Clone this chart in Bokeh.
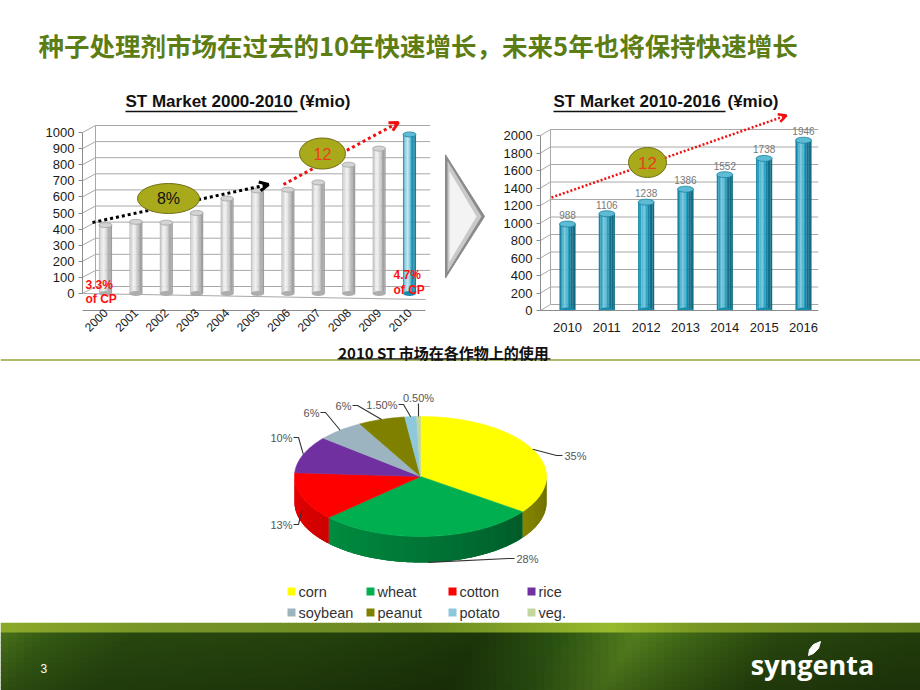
import math
from bokeh.plotting import figure
from bokeh.layouts import column, row
from bokeh.models import Range1d, FixedTicker, Arrow, OpenHead
from bokeh.core.properties import value
from bokeh.embed import file_html
from bokeh.resources import INLINE

# ---------------- data ----------------
page_title = "种子处理剂市场在过去的10年快速增长，未来5年也将保持快速增长"
past_title = "ST Market 2000-2010"
future_title = "ST Market 2010-2016"
unit_text = "(¥mio)"
pie_title = "2010 ST 市场在各作物上的使用"

past_years = [2000, 2001, 2002, 2003, 2004, 2005, 2006, 2007, 2008, 2009, 2010]
past_market = [425, 445, 440, 500, 590, 640, 645, 690, 800, 900, 988]
past_ticks = [0, 100, 200, 300, 400, 500, 600, 700, 800, 900, 1000]

future_years = [2010, 2011, 2012, 2013, 2014, 2015, 2016]
future_market = [988, 1106, 1238, 1386, 1552, 1738, 1946]
future_ticks = [0, 200, 400, 600, 800, 1000, 1200, 1400, 1600, 1800, 2000]

growth_past = "8%"
growth_recent = "12"
cp_2000 = ["3.3%", "of CP"]
cp_2010 = ["4.7%", "of CP"]

crops = ["corn", "wheat", "cotton", "rice", "soybean", "peanut", "potato", "veg."]
crop_share = [35, 28, 13, 10, 6, 6, 1.5, 0.5]
crop_share_labels = ["35%", "28%", "13%", "10%", "6%", "6%", "1.50%", "0.50%"]

page_number = "3"
brand = "syngenta"

# ---------------- styles ----------------
CROP_COLORS = ["#ffff00", "#00b050", "#ff0000", "#7030a0", "#9cb3c0", "#808000", "#8ec8dc", "#c3d69b"]
GRAY = "#c0c0c0"
TEAL = "#1a9cc0"
OLIVE_TXT = "#5c7d14"
ARIAL = value("Liberation Sans")
CJK = value("Noto Sans CJK SC")


def shade(hexc, f):
    r, g, b = (int(hexc[i:i + 2], 16) for i in (1, 3, 5))
    if f >= 1:
        m = min(1.0, f - 1)
        r, g, b = (c + (255 - c) * m for c in (r, g, b))
    else:
        r, g, b = (c * f for c in (r, g, b))
    return "#%02x%02x%02x" % tuple(int(max(0, min(255, round(c)))) for c in (r, g, b))


def canvas(w, h, **kw):
    p = figure(width=w, height=h, x_range=Range1d(0, w), y_range=Range1d(h, 0),
               output_backend="svg", toolbar_location=None, min_border=0,
               x_axis_location=None, y_axis_location=None, **kw)
    p.grid.visible = False
    p.outline_line_color = None
    p.background_fill_color = "white"
    p.border_fill_color = "white"
    return p


def cylinders(p, xs, tops, colors, width, lo, hi, cap_h):
    N = 10
    sx, st, sc = [], [], []
    for x, t, c in zip(xs, tops, colors):
        for k in range(N):
            u = (k + 0.5) / N
            f = lo + (hi - lo) * math.exp(-((u - 0.35) / 0.25) ** 2)
            sx.append(x + (u - 0.5) * width)
            st.append(t)
            sc.append(shade(c, f))
    p.vbar(x=sx, top=st, bottom=0, width=width / N * 1.08, fill_color=sc, line_color=None)
    p.ellipse(x=xs, y=[0] * len(xs), width=width, height=cap_h, height_units="screen",
              fill_color=[shade(c, 0.9) for c in colors], line_color=None)
    p.ellipse(x=xs, y=tops, width=width, height=cap_h, height_units="screen",
              fill_color=[shade(c, 1.3) for c in colors],
              line_color=[shade(c, 0.85) for c in colors], line_width=0.8)


def wall_grid(p, x0, x1, ticks, dx, dv):
    xs = [[x0, x0 + dx, x1] for _ in ticks]
    ys = [[v, v + dv, v + dv] for v in ticks]
    p.multi_line(xs=xs, ys=ys, line_color="#a8a8a8", line_width=1)
    p.segment(x0=[x0 + dx], y0=[dv], x1=[x0 + dx], y1=[ticks[-1] + dv], line_color="#a8a8a8")


def style_axes(p):
    p.outline_line_color = None
    p.background_fill_color = "white"
    p.border_fill_color = "white"
    p.grid.visible = False
    for ax in (p.xaxis[0], p.yaxis[0]):
        ax.axis_line_color = "#8c8c8c"
        ax.major_tick_line_color = "#8c8c8c"
        ax.minor_tick_line_color = None
        ax.major_label_text_font = "Liberation Sans"
        ax.major_label_text_color = "#1a1a1a"
        ax.major_label_text_font_size = "13px"
    p.yaxis.major_tick_out = 4
    p.yaxis.major_tick_in = 0
    p.yaxis.major_label_standoff = 4
    p.xaxis.major_tick_out = 0
    p.xaxis.major_tick_in = 0


# ---------------- header ----------------
pH = canvas(920, 80)
pH.text(x=[38], y=[44], text=[page_title], text_font=CJK, text_font_size="25.5px",
        text_font_style="bold", text_color=OLIVE_TXT, text_baseline="middle")

# ---------------- left chart (2000-2010) ----------------
ROW_TOP, ROW_H = 80, 263
FR_TOP, FR_BOT = 85, 310          # shared frame top/bottom (page px) for both charts
L_SP, L_K = 30.4, 0.161
Lx = lambda rx: 2000 + (rx - 105) / L_SP
Ly = lambda ry: (293 - ry) / L_K

pL = figure(width=440, height=ROW_H, output_backend="svg", toolbar_location=None,
            x_range=Range1d(Lx(82), Lx(430)), y_range=Range1d(Ly(FR_BOT), Ly(FR_TOP)),
            min_border=0, min_border_left=82, min_border_right=10,
            min_border_top=FR_TOP - ROW_TOP, min_border_bottom=ROW_TOP + ROW_H - FR_BOT)
style_axes(pL)
pL.yaxis.ticker = FixedTicker(ticks=past_ticks)
pL.yaxis.bounds = (0, past_ticks[-1])
pL.xaxis.ticker = FixedTicker(ticks=past_years)
pL.xaxis.major_label_orientation = math.pi / 4
pL.xaxis.major_label_text_font_size = "12px"
pL.xaxis.major_label_standoff = 0
pL.xaxis.bounds = (Lx(82), Lx(425))

wall_grid(pL, Lx(82), Lx(430), past_ticks, 13 / L_SP, 7 / L_K)
pL.segment(x0=[Lx(82)], y0=[Ly(293)], x1=[Lx(425)], y1=[Ly(299)], line_color="#a8a8a8")
past_colors = [GRAY] * (len(past_years) - 1) + [TEAL]
cylinders(pL, past_years, past_market, past_colors, 13 / L_SP, 0.82, 1.75, 5)

pL.add_layout(Arrow(x_start=Lx(92), y_start=Ly(222), x_end=Lx(268), y_end=Ly(184),
                    line_color="black", line_width=3, line_dash="3 3",
                    end=OpenHead(size=9, line_color="black", line_width=3)))
pL.add_layout(Arrow(x_start=Lx(283), y_start=Ly(184), x_end=Lx(398), y_end=Ly(122),
                    line_color="#ee1111", line_width=3, line_dash="3 3",
                    end=OpenHead(size=9, line_color="#ee1111", line_width=3)))
e1 = pL.ellipse(x=[Lx(168), Lx(322)], y=[Ly(198), Ly(153)], width=[62, 46], height=[30, 31],
                width_units="screen", height_units="screen",
                fill_color="#a9a91c", line_color="#6e6e10", line_width=1)
e1.level = "overlay"
t1 = pL.text(x=[Lx(168), Lx(322)], y=[Ly(198), Ly(153)], text=[growth_past, growth_recent],
             text_color=["#111111", "#e8401c"], text_font=ARIAL, text_font_size="16px",
             text_align="center", text_baseline="middle")
t1.level = "overlay"

pL.text(x=[Lx(125)], y=[Ly(101)], text=[past_title], text_font=ARIAL, text_font_size="17px",
        text_font_style="bold", text_color="#111111", text_baseline="middle")
pL.text(x=[Lx(125 + 174)], y=[Ly(101)], text=[unit_text], text_font=ARIAL, text_font_size="17px",
        text_font_style="bold", text_color="#111111", text_baseline="middle")
pL.segment(x0=[Lx(125)], y0=[Ly(111)], x1=[Lx(125 + 172)], y1=[Ly(111)], line_color="#111111", line_width=1.3)

cp_x = [Lx(85), Lx(85), Lx(393), Lx(393)]
cp_y = [Ly(284), Ly(298), Ly(274), Ly(289)]
t3 = pL.text(x=cp_x, y=cp_y, text=cp_2000 + cp_2010, text_color="#ff1010", text_font=ARIAL,
             text_font_size="12px", text_font_style="bold", text_baseline="middle")
t3.level = "overlay"

# ---------------- chevron ----------------
pC = canvas(50, ROW_H)
pC.patch(x=[5, 44, 5], y=[81, 153, 225], fill_color="#8a8a8a", line_color="#8a8a8a")
pC.patch(x=[7, 41, 7], y=[88, 153, 218], fill_color="#c9c9c9", line_color=None)
pC.patch(x=[9, 36, 9], y=[100, 153, 206], fill_color="#f3f3f3", line_color=None)

# ---------------- right chart (2010-2016) ----------------
R_SP, R_K = 39.33, 0.0875
Rx = lambda rx: 2010 + (rx - 567) / R_SP
Ry = lambda ry: (310 - ry) / R_K

pR = figure(width=430, height=ROW_H, output_backend="svg", toolbar_location=None,
            x_range=Range1d(Rx(540), Rx(818)), y_range=Range1d(Ry(FR_BOT), Ry(FR_TOP)),
            min_border=0, min_border_left=540 - 490, min_border_right=920 - 818,
            min_border_top=FR_TOP - ROW_TOP, min_border_bottom=ROW_TOP + ROW_H - FR_BOT)
style_axes(pR)
pR.yaxis.ticker = FixedTicker(ticks=future_ticks)
pR.yaxis.bounds = (0, future_ticks[-1])
pR.xaxis.ticker = FixedTicker(ticks=future_years)
pR.xaxis.major_label_standoff = 12
pR.xaxis.bounds = (Rx(540), Rx(818))

wall_grid(pR, Rx(540), Rx(818), future_ticks, 10 / R_SP, 6 / R_K)
cylinders(pR, future_years, future_market, [TEAL] * len(future_years), 16 / R_SP, 0.68, 1.38, 6)
pR.text(x=future_years, y=future_market, text=[str(v) for v in future_market], text_font=ARIAL,
        text_font_size="10px", text_color="#777777", text_align="center", text_baseline="bottom",
        y_offset=-5)

pR.add_layout(Arrow(x_start=Rx(551), y_start=Ry(197), x_end=Rx(786), y_end=Ry(115),
                    line_color="#ee1111", line_width=2.5, line_dash="2 2",
                    end=OpenHead(size=8, line_color="#ee1111", line_width=2.5)))
e2 = pR.ellipse(x=[Rx(647)], y=[Ry(162)], width=38, height=30, width_units="screen",
                height_units="screen", fill_color="#a9a91c", line_color="#6e6e10", line_width=1)
e2.level = "overlay"
t2 = pR.text(x=[Rx(647)], y=[Ry(162)], text=[growth_recent], text_color="#e8401c", text_font=ARIAL,
             text_font_size="17px", text_align="center", text_baseline="middle")
t2.level = "overlay"

pR.text(x=[Rx(553)], y=[Ry(101)], text=[future_title], text_font=ARIAL, text_font_size="17px",
        text_font_style="bold", text_color="#111111", text_baseline="middle")
pR.text(x=[Rx(553 + 174)], y=[Ry(101)], text=[unit_text], text_font=ARIAL, text_font_size="17px",
        text_font_style="bold", text_color="#111111", text_baseline="middle")
pR.segment(x0=[Rx(553)], y0=[Ry(111)], x1=[Rx(553 + 172)], y1=[Ry(111)], line_color="#111111", line_width=1.3)

# ---------------- pie (2010 crop split) ----------------
PIE_TOP, PIE_H = ROW_TOP + ROW_H, 622 - (ROW_TOP + ROW_H)
pP = canvas(920, PIE_H)
P = lambda rx, ry: (rx, ry - PIE_TOP)

_, ly_line = P(0, 359.5)
pP.segment(x0=[0], y0=[ly_line], x1=[920], y1=[ly_line], line_color="#8fa33a", line_width=1.5)
tx, ty = P(443, 352)
pP.text(x=[tx], y=[ty], text=[pie_title], text_font=CJK, text_font_size="15px", text_font_style="bold",
        text_color="#111111", text_align="center", text_baseline="middle")
ux0, uy = P(337, 358.3)
ux1, _ = P(550, 0)
pP.segment(x0=[ux0], y0=[uy], x1=[ux1], y1=[uy], line_color="#111111", line_width=1.2)

cx, cy = P(420, 476)
rx_, ry_, depth = 126, 60, 26


def ell(th, dy=0.0):
    t = math.radians(th)
    return cx + rx_ * math.sin(t), cy - ry_ * math.cos(t) + dy


def side_shade(th):
    return 0.42 + 0.5 * (th - 90) / 180


total = float(sum(crop_share))
bounds = [0.0]
for s in crop_share:
    bounds.append(bounds[-1] + 360.0 * s / total)

# side walls: one base band per slice, then a smooth shading on top of it
base_xs, base_ys, base_c = [], [], []
side_xs, side_ys, side_c = [], [], []
for i, (a0, a1) in enumerate(zip(bounds[:-1], bounds[1:])):
    lo, hi = max(a0, 90.0), min(a1, 270.0)
    if hi <= lo:
        continue
    n = max(1, int(math.ceil((hi - lo) / 1.5)))
    angs = [lo + (hi - lo) * k / n for k in range(n + 1)]
    top_pts = [ell(a) for a in angs]
    bot_pts = [ell(a, depth) for a in angs][::-1]
    base_xs.append([q[0] for q in top_pts + bot_pts])
    base_ys.append([q[1] for q in top_pts + bot_pts])
    base_c.append(shade(CROP_COLORS[i], side_shade((lo + hi) / 2)))
    for k in range(n):
        t0 = angs[k]
        t1 = min(hi, angs[k + 1] + (hi - lo) / n * 0.6)
        p0, p1, q1, q0 = ell(t0), ell(t1), ell(t1, depth), ell(t0, depth)
        side_xs.append([p0[0], p1[0], q1[0], q0[0]])
        side_ys.append([p0[1], p1[1], q1[1], q0[1]])
        side_c.append(shade(CROP_COLORS[i], side_shade((t0 + t1) / 2)))
pP.patches(xs=base_xs, ys=base_ys, fill_color=base_c, line_color=None)
pP.patches(xs=side_xs, ys=side_ys, fill_color=side_c, line_color=None)

top_xs, top_ys = [], []
for a0, a1 in zip(bounds[:-1], bounds[1:]):
    m = max(2, int((a1 - a0) / 2) + 1)
    pts = [(cx, cy)] + [ell(a0 + (a1 - a0) * k / m) for k in range(m + 1)]
    top_xs.append([q[0] for q in pts])
    top_ys.append([q[1] for q in pts])
pP.patches(xs=top_xs, ys=top_ys, fill_color=CROP_COLORS, line_color=CROP_COLORS, line_width=0.6)

# label placement (page px): x, y, alignment
label_layout = [(564, 455, "left"), (516, 558, "left"), (292, 524, "right"), (292, 437, "right"),
                (319, 412, "right"), (351, 405, "right"), (397, 404, "right"), (418, 397, "center")]
lead_xs, lead_ys = [], []
lab_x, lab_y, lab_al = [], [], []
for (a0, a1), (lx, ly, al) in zip(zip(bounds[:-1], bounds[1:]), label_layout):
    mid = (a0 + a1) / 2
    dy = depth if 135 < mid < 225 else (depth / 2 if 90 < mid < 270 else 0)
    sx, sy = ell(mid, dy)
    fx, fy = P(lx, ly)
    if al == "left":
        xs, ys = [sx, fx - 8, fx - 2], [sy, fy, fy]
    elif al == "right":
        xs, ys = [sx, fx + 6, fx + 1], [sy, fy, fy]
    else:
        xs, ys = [sx, fx], [sy, fy + 6]
    lead_xs.append(xs)
    lead_ys.append(ys)
    lab_x.append(fx)
    lab_y.append(fy)
    lab_al.append(al)
pP.multi_line(xs=lead_xs, ys=lead_ys, line_color="#333333", line_width=1.1)
pP.text(x=lab_x, y=lab_y, text=crop_share_labels, text_align=lab_al, text_baseline="middle",
        text_font=ARIAL, text_font_size="11px", text_color="#555555")

# legend (two rows of four)
leg_cols = [291, 370, 452, 531]
leg_rows = [591, 612]
sq_x, sq_y, tx_x = [], [], []
for i in range(len(crops)):
    lx, ly = P(leg_cols[i % 4], leg_rows[i // 4])
    sq_x.append(lx)
    sq_y.append(ly)
    tx_x.append(lx + 7)
pP.rect(x=sq_x, y=sq_y, width=8, height=8, fill_color=CROP_COLORS, line_color=None)
pP.text(x=tx_x, y=sq_y, text=crops, text_font=ARIAL, text_font_size="14.5px", text_color="#333333",
        text_baseline="middle")

# ---------------- footer ----------------
FOOT_H = 690 - 622
pF = canvas(920, FOOT_H)
band_stops = [(0, (72, 112, 26)), (45, (52, 90, 20)), (130, (40, 72, 15)), (320, (37, 66, 13)),
              (480, (29, 54, 10)), (560, (44, 84, 18)), (635, (82, 126, 30)), (690, (62, 102, 22)),
              (780, (40, 70, 14)), (920, (34, 60, 12))]
strip_stops = [(0, (140, 170, 42)), (160, (118, 148, 40)), (420, (108, 138, 34)), (610, (152, 186, 46)),
               (700, (120, 150, 36)), (920, (96, 126, 30))]


def interp(stops, x):
    for (x0, c0), (x1, c1) in zip(stops[:-1], stops[1:]):
        if x0 <= x <= x1:
            u = (x - x0) / float(x1 - x0)
            return tuple(a + (b - a) * u for a, b in zip(c0, c1))
    return stops[-1][1]


qx0, qx1, qy0, qy1, qc = [], [], [], [], []
for xi in range(0, 920, 8):
    for yi in range(0, FOOT_H, 5):
        xm = xi + 4
        if yi < 10:
            c = interp(strip_stops, xm)
        else:
            c = interp(band_stops, min(919, xm + (yi - 10) * 0.6))
            fac = 1 - 0.18 * (yi - 10) / 58.0
            c = tuple(v * fac for v in c)
        qx0.append(xi)
        qx1.append(xi + 8.5)
        qy0.append(yi)
        qy1.append(yi + 5.5)
        qc.append("#%02x%02x%02x" % tuple(int(v) for v in c))
pF.quad(left=qx0, right=qx1, top=qy0, bottom=qy1, fill_color=qc, line_color=None)
pF.text(x=[40], y=[668 - 622], text=[page_number], text_font=ARIAL, text_font_size="12px",
        text_color="white", text_baseline="middle")
pF.text(x=[812], y=[664 - 622], text=[brand], text_font=value("Open Sans"), text_font_size="27px",
        text_font_style="bold", text_color="white", text_align="center", text_baseline="middle")
pF.patch(x=[808, 809, 813, 820, 818, 813], y=[33, 27, 22, 19, 26, 31], fill_color="white", line_color="white")

layout = column(pH, row(pL, pC, pR, spacing=0), pP, pF, spacing=0)
open("out.html", "w").write(file_html(layout, INLINE))
